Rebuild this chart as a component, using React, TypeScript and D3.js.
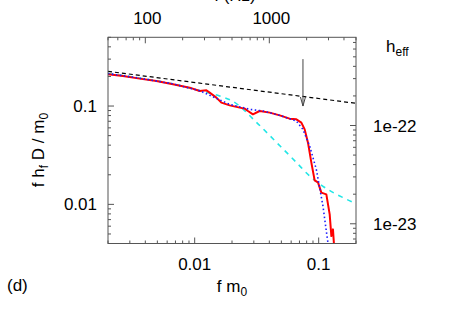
import React from "react";
import * as d3 from "d3";

// f m0 values and f h_f D / m0
const redF = [0.002, 0.00264, 0.0036, 0.00491, 0.00668, 0.00912, 0.01097, 0.01243, 0.01321, 0.01496, 0.01642, 0.01916, 0.02307, 0.0253, 0.0269, 0.0295, 0.0334, 0.0403, 0.0485, 0.0583, 0.0661, 0.0725, 0.0771, 0.082, 0.0873, 0.0928, 0.0987, 0.1051, 0.1153, 0.1227, 0.1266, 0.1304, 0.1329];
const redV = [0.21, 0.2018, 0.19, 0.1796, 0.1663, 0.1538, 0.1421, 0.1445, 0.1368, 0.1218, 0.1083, 0.1016, 0.0963, 0.0941, 0.089, 0.0823, 0.089, 0.0857, 0.0804, 0.0744, 0.0732, 0.0678, 0.0579, 0.0424, 0.02655, 0.01754, 0.01675, 0.01315, 0.01264, 0.00791, 0.00476, 0.00557, 0.0039];

const blueF = [0.002, 0.0036, 0.00668, 0.011, 0.01496, 0.01916, 0.0278, 0.0356, 0.0485, 0.0661, 0.0746, 0.0846, 0.0957, 0.1083, 0.1167, 0.1194];
const blueV = [0.214, 0.192, 0.168, 0.143, 0.1197, 0.104, 0.0926, 0.089, 0.0804, 0.0704, 0.0579, 0.0392, 0.0227, 0.00961, 0.00476, 0.0039];

const cyanF = [0.002, 0.0036, 0.00668, 0.011, 0.0159, 0.0202, 0.0315, 0.0456, 0.0661, 0.0846, 0.1076, 0.156, 0.2];
const cyanV = [0.214, 0.192, 0.168, 0.143, 0.1264, 0.1124, 0.0683, 0.0428, 0.0267, 0.0194, 0.01535, 0.01177, 0.0102];

const blackF = [0.002, 0.02, 0.2];
const blackV = [0.2254, 0.155, 0.1065];

const arrowF = 0.0747;
const arrowV = [0.3, 0.1];

const xDomain = [0.002, 0.2];
const yDomain = [0.004, 0.5];
const hzDomain = [50, 5000];
const heffDomain = [6.3e-24, 7.9e-22];

const bottomLabels = [0.01, 0.1];
const leftLabels = [0.1, 0.01];
const topLabels = [100, 1000];
const rightLabels = [1e-22, 1e-23];

const W = 457, H = 320;
const L = 108, R = 356, T = 37.3, B = 243.5;

const x = d3.scaleLog().domain(xDomain).range([L, R]);
const y = d3.scaleLog().domain(yDomain).range([B, T]);
const xTop = d3.scaleLog().domain(hzDomain).range([L, R]);
const yRight = d3.scaleLog().domain(heffDomain).range([B, T]);

const zip = (a: number[], b: number[]) => a.map((v, i) => [v, b[i]] as [number, number]);
const line = d3.line<[number, number]>().x((d) => x(d[0])).y((d) => y(d[1]));
const smooth = d3.line<[number, number]>().x((d) => x(d[0])).y((d) => y(d[1])).curve(d3.curveMonotoneX);

const isMajor = (v: number) => Math.abs(Math.log10(v) - Math.round(Math.log10(v))) < 1e-6;

const font = "Liberation Sans, Arial, sans-serif";
const frame = "#555";

export default function App() {
  const ax = x(arrowF);
  return (
    <svg width={W} height={H} style={{ position: "absolute", left: 0, top: 0, background: "#fff" }} fontFamily={font}>
      <defs>
        <clipPath id="plot">
          <rect x={L} y={T} width={R - L} height={B - T} />
        </clipPath>
      </defs>

      {/* ticks */}
      {x.ticks().map((v, i) => (
        <line key={"b" + i} x1={x(v)} x2={x(v)} y1={B} y2={B - (isMajor(v) ? 6 : 3)} stroke={frame} />
      ))}
      {xTop.ticks().map((v, i) => (
        <line key={"t" + i} x1={xTop(v)} x2={xTop(v)} y1={T} y2={T + (isMajor(v) ? 6 : 3)} stroke={frame} />
      ))}
      {y.ticks().map((v, i) => (
        <line key={"l" + i} x1={L} x2={L + (isMajor(v) ? 6 : 3)} y1={y(v)} y2={y(v)} stroke={frame} />
      ))}
      {yRight.ticks().map((v, i) => (
        <line key={"r" + i} x1={R} x2={R - (isMajor(v) ? 6 : 3)} y1={yRight(v)} y2={yRight(v)} stroke={frame} />
      ))}

      <g clipPath="url(#plot)" fill="none">
        <path d={line(zip(blackF, blackV)) || ""} stroke="#000" strokeWidth={1.2} strokeDasharray="4,3" />
        <path d={smooth(zip(cyanF, cyanV)) || ""} stroke="#22e6e6" strokeWidth={1.6} strokeDasharray="5,5" />
        <path d={line(zip(redF, redV)) || ""} stroke="#f00" strokeWidth={2} strokeLinejoin="round" />
        <path d={line(zip(blueF, blueV)) || ""} stroke="#1c1cff" strokeWidth={1.6} strokeDasharray="1.5,2.5" />
      </g>

      {/* arrow */}
      <line x1={ax} x2={ax} y1={y(arrowV[0])} y2={y(arrowV[1])} stroke="#444" strokeWidth={1} />
      <path d={`M${ax - 2.5},${y(arrowV[1]) - 9}L${ax},${y(arrowV[1])}L${ax + 2.5},${y(arrowV[1]) - 9}`} fill="none" stroke="#444" strokeWidth={1} />

      <rect x={L} y={T} width={R - L} height={B - T} fill="none" stroke={frame} strokeWidth={1} />

      {/* tick labels */}
      <g fontSize={17} fill="#000">
        {bottomLabels.map((v) => (
          <text key={"bl" + v} x={x(v)} y={270} textAnchor="middle">{String(v)}</text>
        ))}
        {topLabels.map((v) => (
          <text key={"tl" + v} x={xTop(v) + 2} y={23.5} textAnchor="middle">{String(v)}</text>
        ))}
        {leftLabels.map((v) => (
          <text key={"ll" + v} x={97} y={y(v) + 6} textAnchor="end">{String(v)}</text>
        ))}
        {rightLabels.map((v) => (
          <text key={"rl" + v} x={373} y={yRight(v) + 6} textAnchor="start">{"1e-" + Math.round(-Math.log10(v))}</text>
        ))}

        <text x={235} y={1} textAnchor="middle">f (Hz)</text>
        <text x={232} y={292} textAnchor="middle">
          f m<tspan fontSize={12} dy={4}>0</tspan>
        </text>
        <text x={7} y={291}>(d)</text>
        <text x={386} y={52}>
          h<tspan fontSize={12} dy={4}>eff</tspan>
        </text>
        <text transform="translate(44,150) rotate(-90)" textAnchor="middle">
          f h<tspan fontSize={12} dy={4}>f</tspan>
          <tspan dy={-4}> D / m</tspan>
          <tspan fontSize={12} dy={4}>0</tspan>
        </text>
      </g>
    </svg>
  );
}
